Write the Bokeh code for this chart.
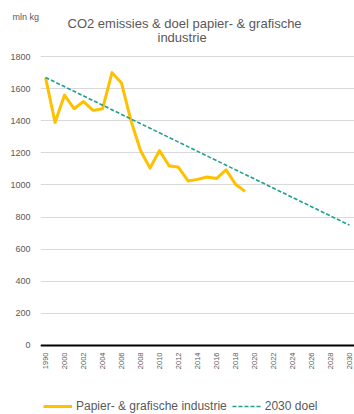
import math
from bokeh.plotting import figure
from bokeh.models import (ColumnDataSource, FixedTicker, Range1d, Legend, LegendItem, Title)
from bokeh.embed import file_html
from bokeh.resources import INLINE

# ---- data ----
years = ["1990", "1995"] + [str(y) for y in range(2000, 2031)]
emission_years = ["1990", "1995", "2000", "2001", "2002", "2003", "2004", "2005", "2006",
                  "2007", "2008", "2009", "2010", "2011", "2012", "2013", "2014", "2015",
                  "2016", "2017", "2018", "2019"]
emissions = [1670, 1390, 1560, 1475, 1520, 1465, 1475, 1700, 1635, 1400, 1215, 1105,
             1215, 1120, 1110, 1025, 1035, 1050, 1040, 1095, 1005, 960]
target_years = ["1990", "2030"]
target = [1670, 750]
tick_labels = years[0::2]
y_ticks = [0, 200, 400, 600, 800, 1000, 1200, 1400, 1600, 1800]

title_line1 = "CO2 emissies & doel papier- & grafische"
title_line2 = "industrie"
unit_label = "mln  kg"
series_names = ["Papier- & grafische industrie", "2030 doel"]

FONT = "Liberation Sans"
GREY = "#595959"

idx = {y: i for i, y in enumerate(years)}

src_e = ColumnDataSource(dict(x=[idx[y] for y in emission_years], y=emissions))
src_t = ColumnDataSource(dict(x=[idx[y] for y in target_years], y=target))

p = figure(width=354, height=414, output_backend="svg", toolbar_location=None,
           x_range=Range1d(-0.53, 32.53), y_range=Range1d(-430, 1838),
           min_border_left=40, min_border_right=0, min_border_top=50, min_border_bottom=0)
p.outline_line_color = None
p.background_fill_color = "white"
p.border_fill_color = "white"

r1 = p.line("x", "y", source=src_e, line_color="#FFC000", line_width=3, line_join="round")
r2 = p.line("x", "y", source=src_t, line_color="#1FA090", line_width=1.6, line_dash="4 2")

# x axis sits on the zero line
p.xaxis.fixed_location = 0
p.xaxis.ticker = FixedTicker(ticks=[idx[t] for t in tick_labels])
p.xaxis.major_label_overrides = {idx[t]: t for t in tick_labels}
p.xaxis.major_label_orientation = math.pi / 2
p.xaxis.axis_line_color = "black"
p.xaxis.axis_line_width = 2
p.xaxis.major_tick_line_color = None
p.xaxis.major_tick_out = 0
p.xaxis.major_tick_in = 0
p.xaxis.minor_tick_line_color = None
p.xaxis.major_label_text_font = FONT
p.xaxis.major_label_text_font_size = "7.5px"
p.xaxis.major_label_text_color = GREY
p.xaxis.major_label_standoff = 7

p.yaxis.ticker = FixedTicker(ticks=y_ticks)
p.yaxis.axis_line_color = None
p.yaxis.major_tick_line_color = None
p.yaxis.major_tick_out = 0
p.yaxis.major_tick_in = 0
p.yaxis.minor_tick_line_color = None
p.yaxis.major_label_text_font = FONT
p.yaxis.major_label_text_font_size = "9px"
p.yaxis.major_label_text_color = GREY
p.yaxis.major_label_standoff = 10

p.xgrid.grid_line_color = None
p.ygrid.grid_line_color = "#D9D9D9"
p.ygrid.grid_line_width = 1
p.ygrid.ticker = FixedTicker(ticks=y_ticks)

# titles (added nearest-first)
p.add_layout(Title(text=title_line2, align="left", offset=117, standoff=10.4,
                   text_font=FONT, text_font_size="13px", text_font_style="normal",
                   text_color=GREY), "above")
p.add_layout(Title(text=title_line1, align="left", offset=27, standoff=-15.2,
                   text_font=FONT, text_font_size="13px", text_font_style="normal",
                   text_color=GREY), "above")
p.add_layout(Title(text=unit_label, align="left", offset=-28, standoff=-0.8,
                   text_font=FONT, text_font_size="9px", text_font_style="normal",
                   text_color=GREY), "above")

legend = Legend(items=[LegendItem(label=series_names[0], renderers=[r1]),
                       LegendItem(label=series_names[1], renderers=[r2])],
                location=(3, -2), orientation="horizontal",
                glyph_width=29, glyph_height=20, label_height=20, label_standoff=4, spacing=5,
                padding=0, margin=0, border_line_color=None, background_fill_alpha=0,
                label_text_font=FONT, label_text_font_size="12px", label_text_color=GREY)
p.add_layout(legend)

open("out.html", "w").write(file_html(p, INLINE))
